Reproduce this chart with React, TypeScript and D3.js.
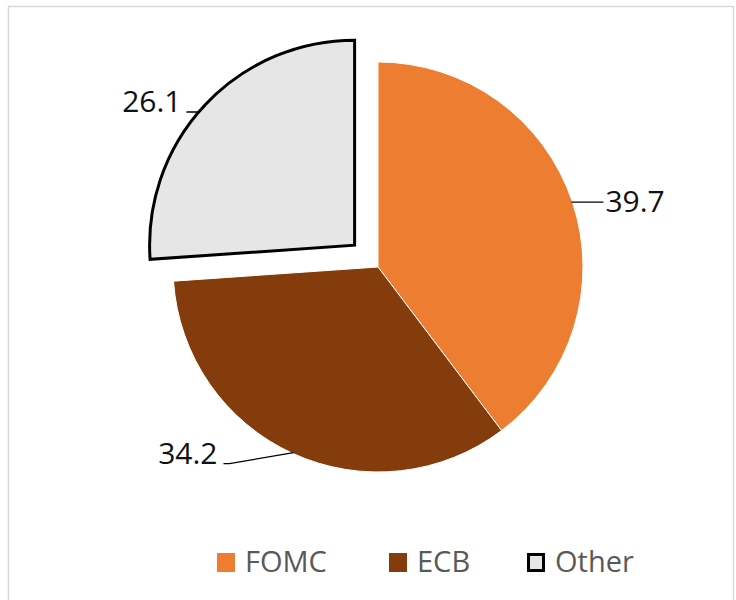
import React from "react";
import * as d3 from "d3";

const categories = ["FOMC", "ECB", "Other"];
const values = [39.7, 34.2, 26.1];
const labels = ["39.7", "34.2", "26.1"];
const colors = ["#ED7D31", "#843C0C", "#E7E6E6"];

const W = 736;
const H = 600;
const cx = 378;
const cy = 267;
const R = 205;
const explode = [0, 0, 32];
const FONT = "'Open Sans', 'Noto Sans', sans-serif";

export default function App() {
  const pie = d3
    .pie<number>()
    .sort(null)
    .value((d) => d)
    .startAngle(0)
    .endAngle(2 * Math.PI);
  const arcs = pie(values);
  const arc = d3.arc<d3.PieArcDatum<number>>().innerRadius(0).outerRadius(R);

  const polar = (a: number, r: number): [number, number] => [
    Math.sin(a) * r,
    -Math.cos(a) * r,
  ];

  // label leader layouts (relative offsets from anchor on arc)
  const labelLayout = [
    { bend: [30, 0], end: [32, 0], anchor: "start", tx: 34, ty: 10 },
    { bend: [-64, 11], end: [-70, 11], anchor: "end", tx: -76, ty: 11 },
    { bend: [-7, 6], end: [-19, 6], anchor: "end", tx: -24, ty: 6 },
  ];

  // legend
  const legendX = [217, 389, 527];
  const legendY = 553;

  return (
    <svg
      width={W}
      height={H}
      style={{ position: "absolute", left: 0, top: 0, background: "#fff" }}
    >
      <rect x={8.5} y={6.5} width={725} height={620} fill="#fff" stroke="#d9d9d9" strokeWidth={1.5} />
      <g transform={`translate(${cx},${cy})`}>
        {arcs.map((a, i) => {
          const mid = (a.startAngle + a.endAngle) / 2;
          const [ox, oy] = polar(mid, explode[i]);
          const isOther = i === 2;
          return (
            <path
              key={categories[i]}
              d={arc(a) || ""}
              transform={`translate(${ox},${oy})`}
              fill={colors[i]}
              stroke={isOther ? "#000" : "#fff"}
              strokeWidth={isOther ? 3 : 1}
              strokeLinejoin="miter"
            />
          );
        })}
        {arcs.map((a, i) => {
          const mid = (a.startAngle + a.endAngle) / 2;
          const [ox, oy] = polar(mid, explode[i]);
          const [px, py] = polar(mid, R - 1);
          const sx = px + ox;
          const sy = py + oy;
          const L = labelLayout[i];
          return (
            <g key={"lab" + i}>
              <polyline
                points={`${sx},${sy} ${sx + L.bend[0]},${sy + L.bend[1]} ${sx + L.end[0]},${sy + L.end[1]}`}
                fill="none"
                stroke="#000"
                strokeWidth={1.3}
              />
              <text
                x={sx + L.tx}
                y={sy + L.ty}
                textAnchor={L.anchor as any}
                fontFamily={FONT}
                fontSize={30}
                fill="#111"
              >
                {labels[i]}
              </text>
            </g>
          );
        })}
      </g>
      {categories.map((c, i) => (
        <g key={"leg" + c}>
          <rect
            x={legendX[i] + (i === 2 ? 1.5 : 0)}
            y={legendY + (i === 2 ? 1.5 : 0)}
            width={i === 2 ? 15 : 18}
            height={i === 2 ? 16 : 19}
            fill={colors[i]}
            stroke={i === 2 ? "#000" : "none"}
            strokeWidth={3}
          />
          <text
            x={legendX[i] + 28}
            y={legendY + 19}
            fontFamily={FONT}
            fontSize={29}
            fill="#595959"
          >
            {c}
          </text>
        </g>
      ))}
    </svg>
  );
}
